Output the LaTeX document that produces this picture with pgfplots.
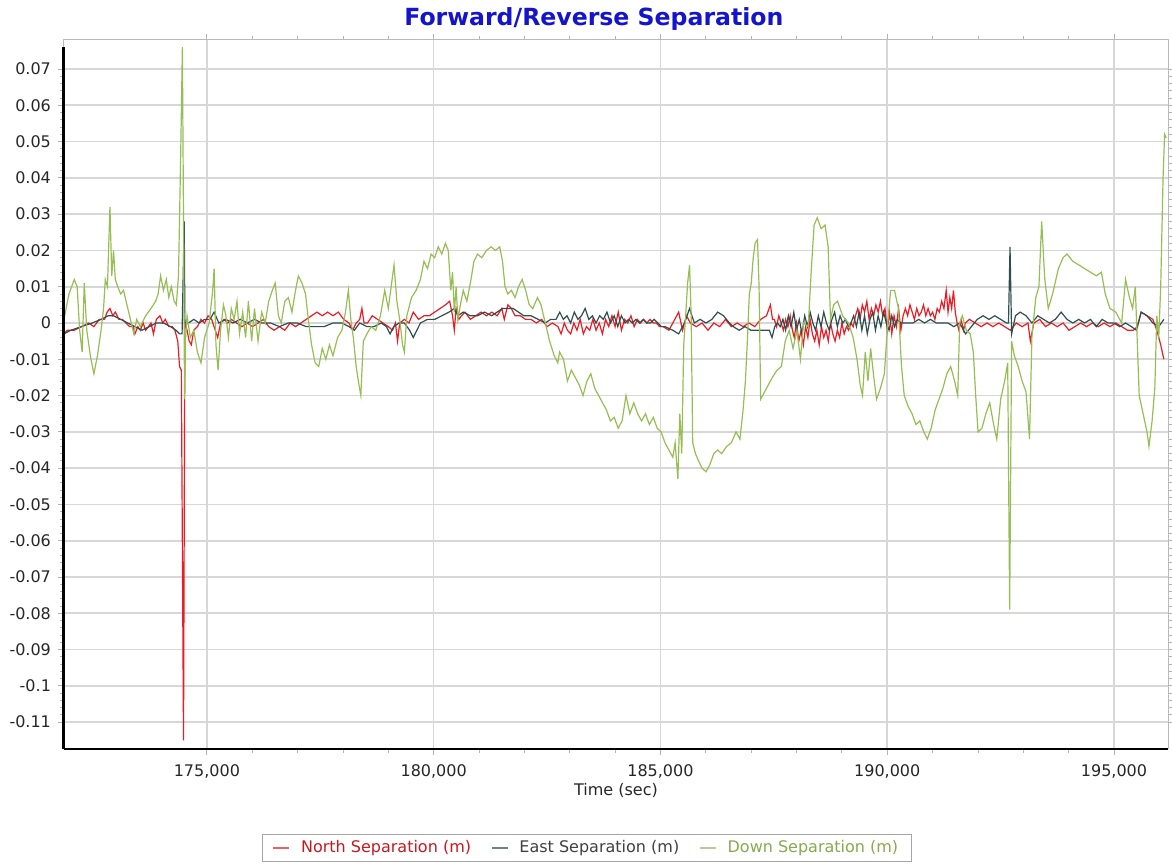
\documentclass[border=0pt]{standalone}
\usepackage{fontspec}
\setmainfont{DejaVu Sans}
\usepackage{pgfplots}
\pgfplotsset{compat=1.18}

\definecolor{northc}{RGB}{235,28,36}
\definecolor{eastc}{RGB}{47,79,79}
\definecolor{downc}{RGB}{150,190,85}
\definecolor{titlec}{RGB}{20,20,205}
\definecolor{gridc}{RGB}{215,215,215}

\begin{document}
\begin{tikzpicture}
\begin{axis}[
    scale only axis,
    width=552pt, height=354.5pt,
    xmin=171850, xmax=196190,
    ymin=-0.1174, ymax=0.078,
    xtick={175000,180000,185000,190000,195000},
    minor x tick num=4,
    ytick={-0.11,-0.1,-0.09,-0.08,-0.07,-0.06,-0.05,-0.04,-0.03,-0.02,-0.01,0,0.01,0.02,0.03,0.04,0.05,0.06,0.07},
    minor y tick num=4,
    scaled x ticks=false, scaled y ticks=false,
    xticklabel style={yshift=-1.5pt, /pgf/number format/.cd, fixed, 1000 sep={,}, assume math mode=true},
    yticklabel style={/pgf/number format/.cd, fixed, precision=2, assume math mode=true},
    ticklabel style={font=\fontsize{8}{9}\selectfont, text=black!85},
    tick align=outside,
    tick style={gray!60, line width=0.4pt},
    major tick length=3pt, minor tick length=2pt,
    xmajorgrids, ymajorgrids,
    grid style={gridc, line width=0.8pt},
    axis line style={gray!55, line width=0.5pt},
    xlabel={Time (sec)},
    xlabel style={font=\fontsize{8}{9}\selectfont, text=black!85, at={(axis description cs:0.5,0)}, anchor=center, yshift=-20.5pt},
    title={Forward/Reverse Separation},
    title style={font=\bfseries\fontsize{11.8}{13}\selectfont, text=titlec, at={(axis description cs:0.48,1)}, anchor=center, yshift=4.5pt},
    legend columns=3,
    legend style={at={(axis description cs:0.4737,-0.12)}, anchor=north, draw=gray!70, line width=0.5pt,
        font=\fontsize{8}{9}\selectfont, inner xsep=5pt, inner ysep=1pt,
        nodes={inner xsep=1.5pt, inner ysep=2pt},
        /tikz/every even column/.append style={column sep=8.5pt}},
    legend image code/.code={\draw[#1, line width=0.7pt, opacity=0.7] (-1pt,0pt) -- (7pt,0pt);},
    every axis plot/.append style={line width=0.6pt, mark=none},
    after end axis/.code={
        \draw[black, line width=1.5pt] (rel axis cs:0,0) -- (rel axis cs:0,0.99);
        \draw[black, line width=1.2pt] (rel axis cs:0,0) -- (rel axis cs:1,0);
    },
]
\addplot[northc] coordinates {
(171850,-0.003)(171919,-0.002)(172077,-0.002)(172234,-0.001)(172391,0.0)(172509,-0.001)(172627,0.001)(172745,0.001)
(172800,0.003)(172863,0.004)(172926,0.002)(172981,0.003)(173060,0.001)(173139,0.001)(173217,0.0)(173296,-0.001)
(173375,-0.001)(173414,-0.003)(173477,-0.001)(173532,-0.002)(173595,0.0)(173650,-0.002)(173713,-0.001)(173768,0.0)
(173823,-0.003)(173886,0.001)(173965,0.002)(174028,0.0)(174083,0.001)(174161,-0.001)(174240,-0.001)(174295,-0.002)
(174358,-0.005)(174398,-0.012)(174437,-0.013)(174485,-0.115)(174515,0.0)(174563,-0.002)(174610,-0.005)(174657,-0.006)
(174712,-0.002)(174791,-0.001)(174870,0.001)(174949,0.0)(175027,0.002)(175106,0.001)(175184,-0.002)(175239,-0.004)
(175302,0.0)(175381,0.001)(175459,0.0)(175538,0.001)(175656,0.0)(175774,-0.001)(175892,0.0)(176010,-0.001)
(176128,0.0)(176246,0.001)(176364,-0.001)(176482,-0.002)(176600,-0.001)(176718,-0.002)(176836,0.0)(176954,-0.001)
(177072,0.0)(177190,0.001)(177308,0.002)(177426,0.003)(177544,0.002)(177662,0.003)(177780,0.002)(177898,0.003)
(178016,0.001)(178134,0.0)(178213,-0.002)(178292,0.0)(178370,0.001)(178418,0.004)(178465,0.0)(178543,0.0)
(178646,0.002)(178764,0.001)(178882,0.0)(179000,-0.001)(179094,-0.002)(179157,0.0)(179204,-0.005)(179251,0.0)
(179354,0.001)(179456,0.0)(179550,0.003)(179668,0.001)(179786,0.002)(179904,0.002)(180023,0.003)(180141,0.004)
(180259,0.005)(180353,0.006)(180416,0.002)(180455,-0.002)(180495,0.004)(180557,0.001)(180612,0.002)(180691,0.003)
(180809,0.001)(180927,0.002)(181045,0.003)(181164,0.002)(181281,0.003)(181399,0.002)(181502,0.004)(181557,0.001)
(181636,0.005)(181714,0.004)(181793,0.002)(181911,0.002)(182028,0.001)(182146,0.001)(182264,0.0)(182382,0.001)
(182500,-0.001)(182618,0.0)(182740,-0.001)(182810,-0.003)(182880,0.0)(182950,-0.002)(183020,-0.003)(183090,0.0)
(183160,-0.002)(183230,0.001)(183300,-0.003)(183370,-0.001)(183440,-0.002)(183510,0.001)(183580,-0.002)(183650,0.0)
(183720,-0.003)(183790,0.001)(183860,-0.001)(183930,0.002)(184000,-0.001)(184070,0.003)(184140,-0.002)(184210,0.001)
(184280,0.0)(184350,0.002)(184420,-0.001)(184490,0.001)(184560,0.0)(184630,0.001)(184700,0.0)(184770,0.001)
(184840,0.0)(184910,0.0)(184980,-0.001)(185057,-0.001)(185186,-0.002)(185316,0.001)(185401,0.003)
(185487,-0.002)(185574,0.002)(185660,0.0)(185789,-0.001)(185918,0.0)(186047,-0.002)(186176,0.0)(186305,-0.001)
(186434,0.001)(186563,-0.001)(186692,0.0)(186821,-0.001)(186950,0.0)(187080,-0.001)(187209,0.001)(187338,0.002)
(187424,0.005)(187470,0.001)(187510,0.001)(187560,-0.001)(187610,0.002)(187660,0.0)(187710,-0.002)(187760,0.001)
(187810,-0.001)(187860,0.002)(187910,-0.002)(187950,-0.004)(188000,0.0)(188050,-0.005)(188100,-0.002)(188150,-0.006)
(188200,-0.001)(188250,-0.004)(188300,0.001)(188350,-0.003)(188400,-0.005)(188450,-0.002)(188500,-0.006)(188550,-0.001)
(188600,-0.004)(188650,-0.002)(188700,-0.005)(188750,0.0)(188800,-0.003)(188850,-0.005)(188900,-0.002)(188950,-0.004)
(189000,0.0)(189050,-0.003)(189100,-0.001)(189150,-0.002)(189200,0.0)(189250,-0.001)(189300,0.002)(189350,0.004)
(189400,0.001)(189450,0.005)(189500,0.003)(189550,0.006)(189600,0.001)(189650,0.004)(189700,0.002)(189750,0.005)
(189800,0.003)(189850,0.006)(189900,0.002)(189950,0.004)(190000,-0.002)(190050,0.003)(190100,-0.003)(190150,0.002)
(190200,-0.001)(190250,0.004)(190300,-0.002)(190350,0.002)(190400,0.004)(190450,0.002)(190500,0.005)(190550,0.003)
(190600,0.001)(190650,0.004)(190700,0.002)(190750,0.003)(190800,0.005)(190850,0.002)(190900,0.004)(190950,0.002)
(191000,0.003)(191050,0.001)(191100,0.004)(191150,0.003)(191200,0.006)(191250,0.004)(191300,0.009)(191340,0.003)
(191380,0.007)(191420,0.004)(191460,0.009)(191500,0.003)(191540,0.0)(191580,-0.002)(191630,0.001)(191680,-0.002)
(191720,0.0)(191812,0.001)(191941,0.0)(192071,-0.001)(192200,0.0)(192329,-0.001)(192458,0.0)(192588,-0.001)(192716,-0.002)
(192845,0.0)(192974,-0.001)(193103,0.0)(193155,-0.005)(193232,0.0)(193361,0.001)(193490,-0.001)(193619,0.0)
(193748,-0.001)(193877,0.0)(194007,-0.002)(194136,-0.001)(194265,0.0)(194394,-0.001)(194523,0.0)(194652,-0.001)
(194781,0.0)(194910,-0.001)(195039,0.0)(195168,-0.001)(195297,-0.002)(195426,-0.002)(195513,-0.001)(195598,0.003)
(195727,0.002)(195856,0.001)(195943,-0.002)(196029,-0.006)(196098,-0.010)
};
\addlegendentry{\hspace{4pt}\textcolor{northc!85!black}{North Separation (m)}}
\addplot[eastc] coordinates {
(171850,-0.003)(171998,-0.002)(172234,-0.001)(172470,0.0)(172667,0.001)(172824,0.002)(172942,0.002)(173099,0.001)
(173257,0.0)(173414,-0.001)(173571,-0.002)(173729,-0.001)(173886,0.0)(174043,0.0)(174201,-0.001)(174319,-0.002)
(174398,-0.003)(174453,-0.003)(174476,0.012)(174500,0.028)(174516,0.0)(174594,0.0)(174712,0.001)(174830,0.0)
(174949,0.001)(175066,0.001)(175160,0.003)(175263,0.0)(175420,0.001)(175577,0.0)(175735,0.001)(175892,0.0)
(176050,0.001)(176207,0.0)(176404,0.0)(176600,-0.001)(176797,0.0)(176993,0.0)(177190,-0.001)(177387,-0.001)
(177584,-0.001)(177780,0.0)(177977,0.0)(178134,-0.001)(178252,-0.002)(178370,0.0)(178528,-0.001)(178685,-0.001)
(178843,0.0)(178960,-0.001)(179039,-0.003)(179118,-0.001)(179236,0.0)(179354,0.0)(179471,-0.002)(179550,-0.004)
(179629,-0.002)(179708,0.0)(179865,0.001)(180023,0.001)(180180,0.002)(180337,0.003)(180455,0.004)(180534,0.002)
(180652,0.003)(180809,0.002)(180967,0.002)(181124,0.003)(181281,0.002)(181399,0.003)(181518,0.004)(181636,0.004)
(181754,0.004)(181871,0.003)(181989,0.002)(182146,0.002)(182304,0.001)(182461,0.0)(182579,0.001)(182697,0.001)
(182780,0.003)(182860,0.001)(182940,0.002)(183020,0.0)(183100,0.003)(183180,0.001)(183260,0.002)(183340,0.004)
(183420,0.001)(183500,0.002)(183580,0.0)(183660,0.002)(183740,0.001)(183820,0.003)(183900,0.0)(183980,0.002)
(184060,-0.001)(184140,0.002)(184220,0.0)(184300,0.001)(184380,0.0)(184460,0.001)(184540,0.0)(184620,0.001)
(184700,0.0)(184780,0.0)(184860,0.001)(184940,0.0)(185020,-0.001)(185100,-0.001)(185272,-0.002)
(185401,-0.003)(185530,0.0)(185642,0.004)(185746,0.0)(185875,0.001)(186004,0.0)(186133,0.001)(186262,0.003)
(186391,0.002)(186520,0.0)(186606,-0.001)(186735,-0.002)(186864,-0.001)(186993,-0.002)(187123,-0.002)(187252,-0.002)
(187400,-0.002)(187460,-0.004)(187520,-0.001)(187580,0.0)(187640,-0.001)(187700,0.001)(187760,-0.002)(187820,0.002)
(187880,-0.001)(187940,0.003)(188000,-0.002)(188060,0.001)(188120,-0.003)(188180,0.002)(188240,-0.001)(188300,0.003)
(188360,0.0)(188420,-0.002)(188480,0.002)(188540,-0.001)(188600,0.003)(188660,0.0)(188720,-0.002)(188780,0.001)
(188840,0.003)(188900,-0.001)(188960,0.002)(189020,0.0)(189080,0.001)(189140,-0.001)(189200,0.0)(189260,0.002)
(189320,-0.001)(189380,0.003)(189440,-0.002)(189500,0.002)(189560,-0.003)(189620,0.001)(189680,0.003)(189740,-0.002)
(189800,0.002)(189860,-0.001)(189920,0.003)(189980,0.0)(190040,-0.002)(190100,0.002)(190160,-0.001)(190220,0.001)
(190300,0.0)(190435,0.0)(190565,0.0)(190694,0.001)(190823,0.0)(190952,0.001)(191081,0.0)(191210,0.0)
(191339,0.0)(191468,-0.001)(191597,0.0)(191726,-0.003)(191855,-0.001)(191984,0.001)(192114,0.002)(192243,0.001)
(192372,0.002)(192501,0.001)(192630,0.0)(192673,0.0)(192707,0.021)(192742,-0.003)(192828,0.002)(192931,0.003)
(193060,0.002)(193189,0.0)(193318,0.002)(193447,0.001)(193576,0.0)(193705,0.001)(193834,0.003)(193963,0.001)
(194093,0.0)(194222,0.001)(194351,0.0)(194480,0.001)(194609,-0.001)(194738,0.001)(194867,0.0)(194996,0.0)
(195125,-0.001)(195254,0.0)(195383,-0.001)(195495,-0.002)(195598,0.003)(195727,0.002)(195856,0.0)(195986,-0.001)
(196098,0.001)
};
\addlegendentry{\hspace{4pt}\textcolor{black!75}{East Separation (m)}}
\addplot[downc] coordinates {
(171850,0.001)(171959,0.008)(172077,0.012)(172140,0.010)(172195,-0.002)(172250,-0.008)(172297,0.011)(172352,-0.002)
(172431,-0.009)(172509,-0.014)(172588,-0.009)(172667,-0.002)(172722,0.004)(172761,0.012)(172808,0.010)(172863,0.032)
(172903,0.013)(172942,0.020)(172981,0.012)(173036,0.010)(173099,0.008)(173162,0.009)(173257,0.004)(173335,0.0)
(173390,-0.003)(173453,0.001)(173532,-0.001)(173650,0.002)(173768,0.004)(173870,0.006)(173925,0.008)(173980,0.013)
(174043,0.009)(174106,0.012)(174161,0.007)(174216,0.010)(174279,0.006)(174327,0.005)(174374,0.013)(174421,0.045)
(174460,0.076)(174484,0.03)(174508,-0.021)(174531,-0.004)(174563,0.002)(174634,-0.004)(174712,-0.002)(174791,-0.008)
(174870,-0.011)(174949,-0.004)(175050,0.0)(175129,0.009)(175160,0.015)(175200,-0.006)(175247,-0.013)(175302,-0.002)
(175365,0.005)(175420,0.002)(175475,-0.004)(175538,0.004)(175601,0.001)(175664,0.006)(175719,-0.003)(175790,0.003)
(175853,-0.004)(175916,0.006)(175987,-0.005)(176050,0.004)(176128,-0.005)(176207,0.003)(176286,0.0)(176364,0.006)
(176443,0.009)(176506,0.011)(176577,0.002)(176640,0.0)(176718,0.006)(176797,0.007)(176876,0.003)(176954,0.009)
(177017,0.013)(177096,0.011)(177175,0.008)(177237,0.001)(177308,-0.006)(177387,-0.011)(177466,-0.012)(177544,-0.007)
(177623,-0.010)(177702,-0.006)(177780,-0.009)(177883,-0.004)(177977,-0.002)(178056,0.003)(178119,0.009)(178174,0.001)
(178229,-0.004)(178292,-0.012)(178339,-0.016)(178394,-0.020)(178449,-0.005)(178528,-0.003)(178622,-0.001)(178724,-0.002)
(178827,0.002)(178921,0.009)(179000,0.004)(179063,0.010)(179126,0.016)(179189,0.006)(179251,0.001)(179314,-0.006)
(179354,-0.008)(179409,0.002)(179511,0.007)(179613,0.009)(179708,0.012)(179786,0.017)(179865,0.015)(179944,0.019)
(180023,0.018)(180101,0.021)(180180,0.019)(180259,0.022)(180322,0.020)(180377,0.009)(180416,0.014)(180455,0.003)
(180495,0.010)(180534,0.001)(180589,0.005)(180652,0.009)(180731,0.006)(180809,0.011)(180888,0.017)(180967,0.019)
(181061,0.018)(181164,0.020)(181266,0.021)(181360,0.020)(181455,0.021)(181518,0.017)(181573,0.010)(181636,0.008)
(181714,0.009)(181793,0.007)(181871,0.010)(181950,0.012)(182028,0.009)(182107,0.005)(182186,0.004)(182288,0.007)
(182367,0.005)(182461,0.0)(182556,-0.005)(182658,-0.009)(182737,-0.011)(182777,-0.008)(182863,-0.010)(182949,-0.016)
(183035,-0.013)(183121,-0.015)(183207,-0.017)(183293,-0.020)(183379,-0.016)(183465,-0.014)(183551,-0.018)(183638,-0.020)
(183724,-0.022)(183810,-0.024)(183896,-0.027)(183982,-0.026)(184068,-0.029)(184154,-0.027)(184240,-0.020)(184326,-0.025)
(184412,-0.022)(184498,-0.025)(184584,-0.027)(184670,-0.025)(184756,-0.028)(184842,-0.026)(184928,-0.029)(185014,-0.030)
(185100,-0.033)(185186,-0.035)(185272,-0.037)(185324,-0.033)(185384,-0.043)(185427,-0.025)(185470,-0.036)(185513,-0.006)
(185556,0.002)(185599,0.011)(185642,0.016)(185677,0.002)(185711,-0.033)(185771,-0.036)(185840,-0.038)(185918,-0.040)
(186004,-0.041)(186090,-0.039)(186176,-0.036)(186262,-0.035)(186348,-0.036)(186460,-0.034)(186563,-0.033)(186666,-0.030)
(186753,-0.032)(186821,-0.024)(186873,-0.016)(186916,-0.005)(186959,0.008)(187002,0.011)(187045,0.018)(187088,0.022)
(187140,0.023)(187174,0.010)(187209,-0.021)(187295,-0.019)(187381,-0.017)(187467,-0.015)(187570,-0.013)(187665,-0.012)
(187751,-0.005)(187837,-0.002)(187923,-0.007)(188009,-0.002)(188086,-0.010)(188155,0.0)(188258,-0.001)(188327,0.015)
(188388,0.027)(188456,0.029)(188542,0.026)(188629,0.027)(188697,0.021)(188749,0.001)(188818,0.005)(188904,0.006)
(189016,0.002)(189145,0.0)(189248,-0.004)(189334,-0.010)(189403,-0.017)(189455,-0.020)(189515,-0.008)(189575,-0.016)
(189635,-0.007)(189704,-0.015)(189764,-0.021)(189850,-0.018)(189936,-0.014)(190005,-0.001)(190074,0.009)(190160,0.009)
(190246,0.004)(190315,-0.012)(190375,-0.020)(190461,-0.023)(190547,-0.025)(190633,-0.028)(190719,-0.027)(190806,-0.030)
(190883,-0.032)(190969,-0.029)(191055,-0.024)(191141,-0.021)(191227,-0.018)(191313,-0.014)(191399,-0.012)(191485,-0.016)
(191554,-0.020)(191597,0.0)(191657,0.002)(191743,-0.002)(191829,-0.003)(191898,-0.008)(191950,-0.020)(192002,-0.030)
(192088,-0.029)(192174,-0.025)(192260,-0.022)(192346,-0.028)(192415,-0.032)(192501,-0.021)(192588,-0.016)(192656,-0.011)
(192699,-0.079)(192742,-0.005)(192802,-0.009)(192888,-0.012)(192974,-0.016)(193060,-0.019)(193137,-0.032)(193189,-0.004)
(193275,0.007)(193344,0.010)(193405,0.028)(193473,0.012)(193550,0.004)(193645,0.008)(193774,0.015)(193877,0.018)
(193963,0.019)(194093,0.017)(194222,0.016)(194351,0.015)(194480,0.014)(194609,0.013)(194721,0.014)(194807,0.008)
(194910,0.004)(195039,0.003)(195168,0.0)(195254,0.012)(195340,0.007)(195409,0.004)(195469,0.010)(195555,-0.020)
(195641,-0.025)(195727,-0.030)(195770,-0.034)(195839,-0.027)(195899,-0.018)(195943,0.002)(195986,-0.004)(196029,0.010)
(196081,0.040)(196115,0.052)(196150,0.051)
};
\addlegendentry{\hspace{4pt}\textcolor{downc!90!black}{Down Separation (m)}}
\end{axis}
\pgfresetboundingbox
\path ([xshift=-32pt,yshift=-58pt]current axis.south west) rectangle ([xshift=2pt,yshift=20pt]current axis.north east);
\end{tikzpicture}
\end{document}
